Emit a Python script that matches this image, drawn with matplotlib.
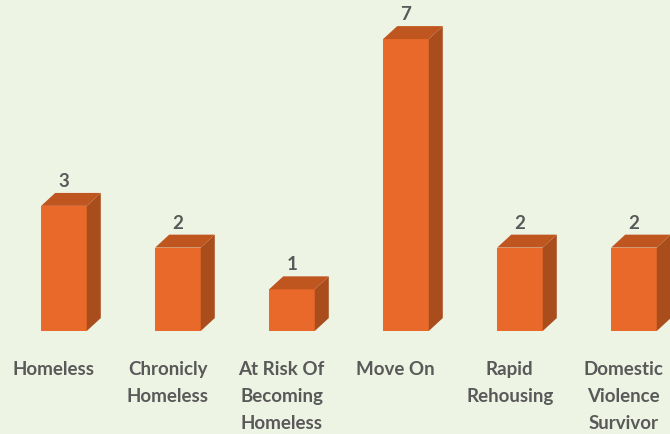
import matplotlib.pyplot as plt
from matplotlib.patches import Polygon

categories = ['Homeless', 'Chronicly\nHomeless', 'At Risk Of\nBecoming\nHomeless',
              'Move On', 'Rapid\nRehousing', 'Domestic\nViolence\nSurvivor']
values = [3, 2, 1, 7, 2, 2]

bg = '#eef4e4'
front_c = '#e8692a'
side_c = '#a94d1c'
top_c = '#c0561f'
text_c = '#595959'

fig = plt.figure(figsize=(6.7, 4.35), dpi=100, facecolor=bg)
ax = fig.add_axes([0, 0, 1, 1])
ax.set_facecolor(bg)
ax.set_xlim(-0.561, 5.316)
ax.set_ylim(-2.47, 7.96)
ax.axis('off')

w = 0.40   # front face width
dx = 0.123 # depth offset x
dy = 0.31  # depth offset y

for i, v in enumerate(values):
    x0, x1 = i - w / 2, i + w / 2
    ax.add_patch(Polygon([(x0, 0), (x1, 0), (x1, v), (x0, v)], closed=True,
                         facecolor=front_c, edgecolor='none'))
    ax.add_patch(Polygon([(x1, 0), (x1 + dx, dy), (x1 + dx, v + dy), (x1, v)], closed=True,
                         facecolor=side_c, edgecolor='none'))
    ax.add_patch(Polygon([(x0, v), (x1, v), (x1 + dx, v + dy), (x0 + dx, v + dy)], closed=True,
                         facecolor=top_c, edgecolor='none'))
    ax.text(i, v + dy + 0.3, str(v), ha='center', va='center', fontsize=13.5,
            fontweight='bold', color=text_c, family='Lato')
    ax.text(i - 0.09, -0.7, categories[i], ha='center', va='top', fontsize=13.5,
            fontweight='bold', color=text_c, family='Lato', linespacing=1.7)

fig.savefig('out.png', dpi=100, facecolor=bg)
